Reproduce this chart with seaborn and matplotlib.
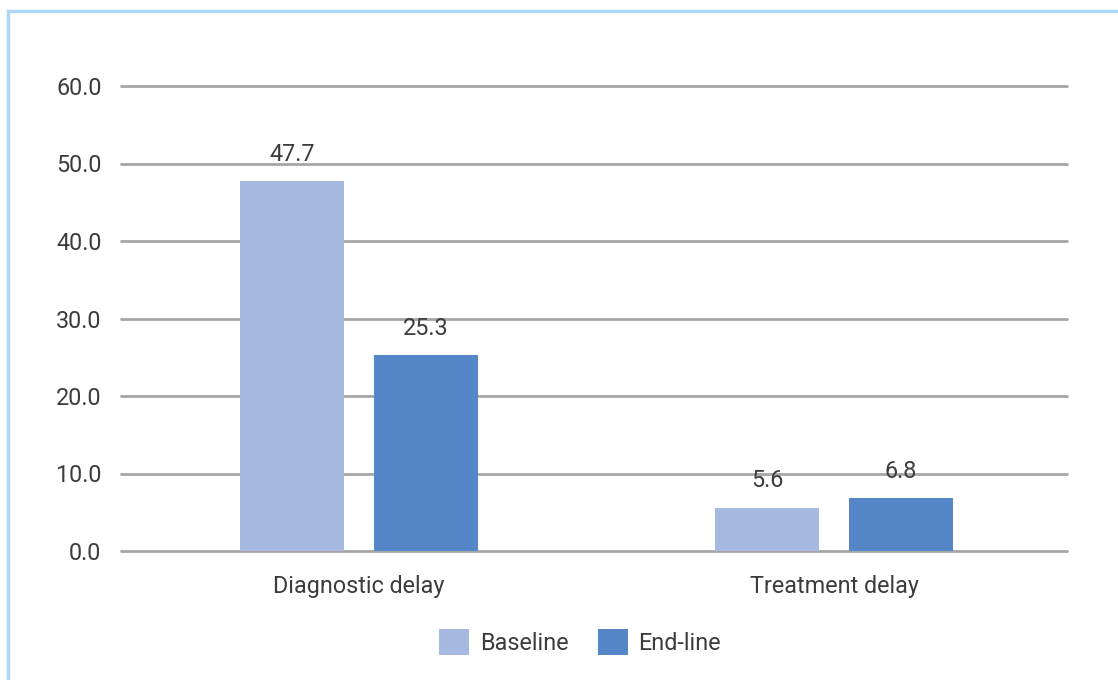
import matplotlib
matplotlib.use("Agg")
import matplotlib.pyplot as plt
from matplotlib.patches import Rectangle
import seaborn as sns
import pandas as pd

categories = ["Diagnostic delay", "Treatment delay"]
series_names = ["Baseline", "End-line"]
baseline = [47.7, 5.6]
endline = [25.3, 6.8]
y_ticks = [0, 10, 20, 30, 40, 50, 60]

colors = ["#A6B9E0", "#5587C8"]
text_color = "#3C3C3C"
grid_color = "#A6A6A6"

sns.set_theme(style="white")
plt.rcParams["font.family"] = ["Roboto", "DejaVu Sans"]
plt.rcParams["font.weight"] = "normal"

df = pd.DataFrame({
    "category": categories * 2,
    "series": [series_names[0]] * len(categories) + [series_names[1]] * len(categories),
    "value": baseline + endline,
})

W, H = 1118, 680
fig = plt.figure(figsize=(W / 100, H / 100), dpi=100)
ax = fig.add_axes([121 / W, 1 - 551 / H, (1067 - 121) / W, (551 - 86) / H])

sns.barplot(data=df, x="category", y="value", hue="series", order=categories,
            hue_order=series_names, palette=colors, width=0.564, gap=0.223,
            saturation=1, linewidth=0, ax=ax, legend=True)

ax.set_ylim(0, 60)
ax.set_xlim(-0.501, 1.4905)
ax.set_yticks(y_ticks)
ax.set_yticklabels([f"{v:.1f}" for v in y_ticks])
ax.yaxis.grid(True, color=grid_color, linewidth=2)
for gl in ax.get_ygridlines():
    gl.set_clip_on(False)
ax.set_axisbelow(True)
for s in ax.spines.values():
    s.set_visible(False)
ax.tick_params(axis="y", length=0, pad=14, labelsize=16.8, labelcolor=text_color)
ax.tick_params(axis="x", length=0, pad=17, labelsize=16.8, labelcolor=text_color)
ax.set_xlabel("")
ax.set_ylabel("")

for cont in ax.containers:
    ax.bar_label(cont, labels=[f"{v:.1f}" for v in cont.datavalues],
                 padding=11, fontsize=16.8, color=text_color)

handles, labels = ax.get_legend_handles_labels()
ax.legend(handles, labels, loc="center", bbox_to_anchor=(580 / W, 1 - 642 / H),
          bbox_transform=fig.transFigure, ncol=2, frameon=False,
          prop={"size": 16.8},
          handlelength=1.3, handleheight=1.3, handletextpad=0.45, columnspacing=1.25,
          labelcolor=text_color)

# light blue frame around the chart area
fig.patches.append(Rectangle((8 / W, -0.1), 1.2, 1 - 11 / H + 0.1,
                             transform=fig.transFigure, fill=False,
                             edgecolor="#AED8F5", linewidth=2.5))

fig.savefig("out.png", dpi=100)
